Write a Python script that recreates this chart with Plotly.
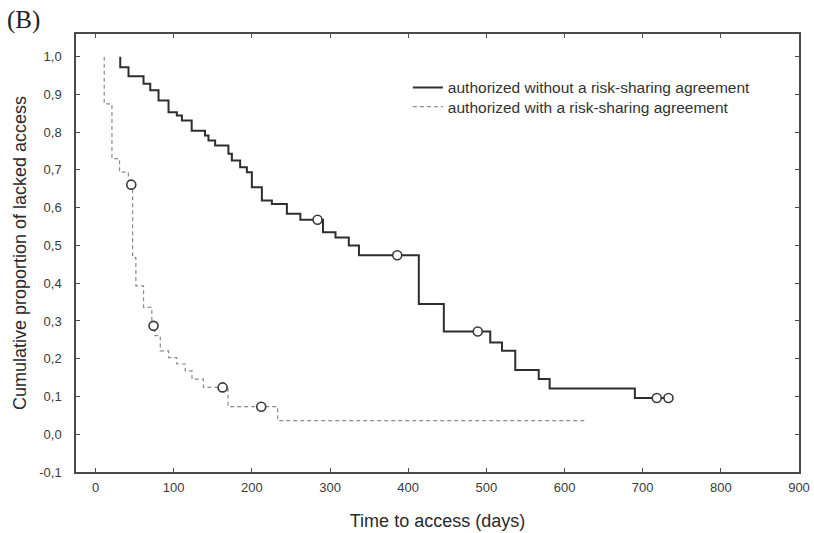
import plotly.graph_objects as go

# ---- data ----
# Without risk-sharing agreement: step times (days) and survival value after each step
solid_times = [31.6, 31.6, 42.2, 61.4, 70, 80.6, 93.4, 104, 110.5, 123, 140, 144.5, 153, 170,
               174.4, 185, 193.6, 200, 212.8, 225.6, 244.8, 262, 291, 307, 324, 337, 413.6,
               445.6, 505, 520, 537, 567, 581, 690, 733]
solid_vals = [1.0, 0.972, 0.948, 0.928, 0.911, 0.884, 0.853, 0.844, 0.831, 0.804, 0.791, 0.778,
              0.765, 0.743, 0.725, 0.707, 0.694, 0.654, 0.619, 0.610, 0.584, 0.568, 0.535,
              0.521, 0.500, 0.474, 0.345, 0.272, 0.243, 0.221, 0.170, 0.146, 0.121, 0.096, 0.096]
solid_cens_t = [284, 386, 489, 718, 733]
solid_cens_v = [0.568, 0.474, 0.272, 0.096, 0.096]

# With risk-sharing agreement
dash_times = [11.1, 11.1, 21, 30.7, 42, 47.4, 51.6, 61.4, 72, 76, 82.8, 93.4, 104, 114.7,
              123.4, 138, 169.5, 233, 629]
dash_vals = [1.0, 0.875, 0.730, 0.694, 0.661, 0.468, 0.393, 0.336, 0.287, 0.261, 0.221,
             0.203, 0.186, 0.168, 0.146, 0.124, 0.073, 0.036, 0.036]
dash_cens_t = [45.7, 74.2, 162.6, 212]
dash_cens_v = [0.661, 0.287, 0.124, 0.073]

x_ticks = [0, 100, 200, 300, 400, 500, 600, 700, 800, 900]
y_ticks = [-0.1, 0.0, 0.1, 0.2, 0.3, 0.4, 0.5, 0.6, 0.7, 0.8, 0.9, 1.0]
y_ticktext = ["-0,1", "0,0", "0,1", "0,2", "0,3", "0,4", "0,5", "0,6", "0,7", "0,8", "0,9", "1,0"]

series_names = ["authorized without a risk-sharing agreement",
                "authorized with a risk-sharing agreement"]

SOLID = "#2e2e2e"
DASH = "#8c8c8c"
FONT = "Liberation Sans, Arial, sans-serif"

fig = go.Figure()
fig.add_trace(go.Scatter(x=solid_times, y=solid_vals, mode="lines", line_shape="hv",
                         line=dict(color=SOLID, width=2), name=series_names[0], legend="legend"))
fig.add_trace(go.Scatter(x=dash_times, y=dash_vals, mode="lines", line_shape="hv",
                         line=dict(color=DASH, width=1.2, dash="4px,3px"), name=series_names[1],
                         legend="legend2"))
fig.add_trace(go.Scatter(x=solid_cens_t, y=solid_cens_v, mode="markers", showlegend=False,
                         marker=dict(symbol="circle", size=9, color="white",
                                     line=dict(color="#3a3a3a", width=1.6))))
fig.add_trace(go.Scatter(x=dash_cens_t, y=dash_cens_v, mode="markers", showlegend=False,
                         marker=dict(symbol="circle", size=9, color="white",
                                     line=dict(color="#3a3a3a", width=1.6))))

axis_common = dict(showgrid=False, zeroline=False, showline=True, linecolor="#4a4a4a",
                   linewidth=1.5, mirror="ticks", ticks="inside", ticklen=4, tickwidth=1,
                   tickcolor="#4a4a4a", automargin=False,
                   tickfont=dict(family=FONT, size=13, color="#3a3a3a"))

fig.update_xaxes(range=[-25, 900], tickvals=x_ticks, ticktext=[str(v) for v in x_ticks],
                 ticklabelstandoff=3,
                 title=dict(text="Time to access (days)", font=dict(family=FONT, size=18, color="#2a2a2a"),
                            standoff=20),
                 **axis_common)
fig.update_yaxes(range=[-0.1, 1.06], tickvals=y_ticks, ticktext=y_ticktext,
                 ticklabelstandoff=10,
                 title=dict(text="Cumulative proportion of lacked access",
                            font=dict(family=FONT, size=18, color="#2a2a2a"), standoff=8),
                 **axis_common)

fig.add_annotation(text="(B)", xref="paper", yref="paper", x=-0.098, y=1.032,
                   xanchor="left", yanchor="middle", showarrow=False,
                   font=dict(family="Liberation Serif, Times New Roman, serif", size=25, color="#222"))

legend_style = dict(xanchor="left", yanchor="middle", bgcolor="rgba(0,0,0,0)",
                    font=dict(family=FONT, size=15.5, color="#333"), itemwidth=30)

fig.update_layout(
    width=814, height=533,
    margin=dict(l=76, r=15, t=34, b=61, autoexpand=False),
    paper_bgcolor="white", plot_bgcolor="white",
    legend=dict(x=0.459, y=0.877, **legend_style),
    legend2=dict(x=0.459, y=0.833, **legend_style),
)

fig.write_html("out.html", config={"displayModeBar": False},
               post_script="document.body.style.margin='0';document.body.style.overflow='hidden';")
